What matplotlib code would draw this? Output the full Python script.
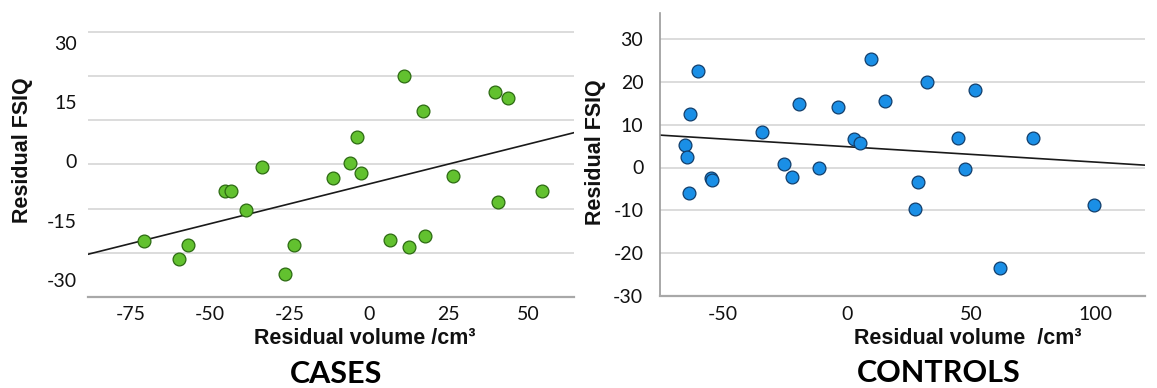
import matplotlib
matplotlib.use("Agg")
import matplotlib.pyplot as plt
import numpy as np

# ---------------- data ----------------
cases_x = [-70.8, -59.7, -56.9, -45.3, -43.5, -38.8, -33.8, -26.5, -23.5, -11.5,
           -6.0, -3.9, -2.7, 6.5, 10.9, 12.4, 16.9, 17.6, 26.2, 39.6, 40.4, 43.5, 54.4]
cases_y = [-20.1, -24.8, -21.1, -7.4, -7.4, -12.2, -1.5, -28.6, -21.1, -4.3,
           -0.4, 6.1, -2.9, -19.9, 21.8, -21.8, 12.8, -18.9, -3.6, 17.7, -10.4, 16.2, -7.4]
cases_fit = (-5.7, 0.202)          # intercept, slope
cases_xticks = [-75, -50, -25, 0, 25, 50]
cases_yticks = [30, 15, 0, -15, -30]
cases_grid = [32.78, 21.61, 10.52, -0.64, -11.99, -23.16]

controls_x = [-60.0, -63.5, -65.5, -64.8, -63.7, -55.1, -54.4, -34.6, -25.6, -22.5,
              -19.3, -11.4, -3.9, 2.6, 5.0, 9.7, 15.2, 27.2, 28.4, 32.0,
              44.4, 47.3, 51.5, 61.3, 74.9, 99.3]
controls_y = [22.6, 12.5, 5.2, 2.5, -6.0, -2.5, -2.9, 8.2, 0.9, -2.2,
              14.9, 0.0, 14.1, 6.6, 5.8, 25.3, 15.6, -9.8, -3.4, 19.9,
              7.0, -0.4, 18.2, -23.4, 7.0, -8.7]
controls_fit = (4.85, -0.0359)
controls_xticks = [-50, 0, 50, 100]
controls_yticks = [30, 20, 10, 0, -10, -20, -30]

# ---------------- figure ----------------
W, H = 1157, 388
fig = plt.figure(figsize=(W / 100, H / 100), dpi=100)
fig.patch.set_facecolor("white")

def fx(px):
    return px / W

def fy(py):
    return 1 - py / H

tick_font = dict(family="Lato", size=14, color="#111111")
lab_font = dict(family="Liberation Sans", weight="bold", size=15.5, color="#111111")
title_font = dict(family="Lato", weight="bold", size=22, color="#000000")

grid_c = "#d9d9d9"
spine_c = "#a8a8a8"

# ---------- CASES ----------
ax1 = fig.add_axes([fx(88), fy(296.7), fx(574) - fx(88), fy(29.5) - fy(296.7)])
ax1.set_xlim(-88.4, 64.4)
ax1.set_ylim(-34.33, 33.5)
for s in ["top", "right", "left"]:
    ax1.spines[s].set_visible(False)
ax1.spines["bottom"].set_color(spine_c)
ax1.spines["bottom"].set_linewidth(1.6)
ax1.set_xticks(cases_xticks)
ax1.set_xticklabels([str(v) for v in cases_xticks], **tick_font)
ax1.set_yticks(cases_yticks)
ax1.set_yticklabels([str(v) for v in cases_yticks], **tick_font)
ax1.set_yticks(cases_grid, minor=True)
ax1.tick_params(axis="both", which="both", length=0)
ax1.tick_params(axis="y", pad=8)
ax1.tick_params(axis="x", pad=7)
ax1.grid(True, axis="y", which="minor", color=grid_c, linewidth=1.3)
ax1.grid(False, axis="y", which="major")
ax1.set_axisbelow(True)
ax1.axline((0, cases_fit[0]), slope=cases_fit[1], color="#1a1a1a", lw=1.2, zorder=2)
ax1.scatter(cases_x, cases_y, s=85, facecolor="#62c12f", edgecolor="#2c6a12",
            linewidth=0.9, zorder=3)

# ---------- CONTROLS ----------
ax2 = fig.add_axes([fx(660), fy(296), fx(1145) - fx(660), fy(13.3) - fy(296)])
ax2.set_xlim(-75.5, 119.9)
ax2.set_ylim(-30, 36.0)
for s in ["top", "right"]:
    ax2.spines[s].set_visible(False)
ax2.spines["bottom"].set_color(spine_c)
ax2.spines["bottom"].set_linewidth(1.6)
ax2.spines["left"].set_color("#9a9a9a")
ax2.spines["left"].set_linewidth(1.2)
ax2.set_xticks(controls_xticks)
ax2.set_xticklabels([str(v) for v in controls_xticks], **tick_font)
ax2.set_yticks(controls_yticks)
ax2.set_yticklabels([str(v) for v in controls_yticks], **tick_font)
ax2.tick_params(axis="both", which="both", length=0)
ax2.tick_params(axis="y", pad=12)
ax2.tick_params(axis="x", pad=7)
ax2.grid(True, axis="y", color=grid_c, linewidth=1.3)
ax2.set_axisbelow(True)
ax2.axline((0, controls_fit[0]), slope=controls_fit[1], color="#1a1a1a", lw=1.2, zorder=2)
ax2.scatter(controls_x, controls_y, s=85, facecolor="#1a8fe6", edgecolor="#123e6b",
            linewidth=0.9, zorder=3)

# ---------- labels ----------
fig.text(fx(365), fy(339), "Residual volume /cm³", ha="center", va="center", **lab_font)
fig.text(fx(968), fy(339), "Residual volume  /cm³", ha="center", va="center", **lab_font)
fig.text(fx(23), fy(150), "Residual FSIQ", ha="center", va="center", rotation=90, **lab_font)
fig.text(fx(596), fy(152), "Residual FSIQ", ha="center", va="center", rotation=90, **lab_font)
fig.text(fx(336), fy(374), "CASES", ha="center", va="center", **title_font)
fig.text(fx(939), fy(373), "CONTROLS", ha="center", va="center", **title_font)

fig.savefig("out.png", dpi=100, facecolor="white")
